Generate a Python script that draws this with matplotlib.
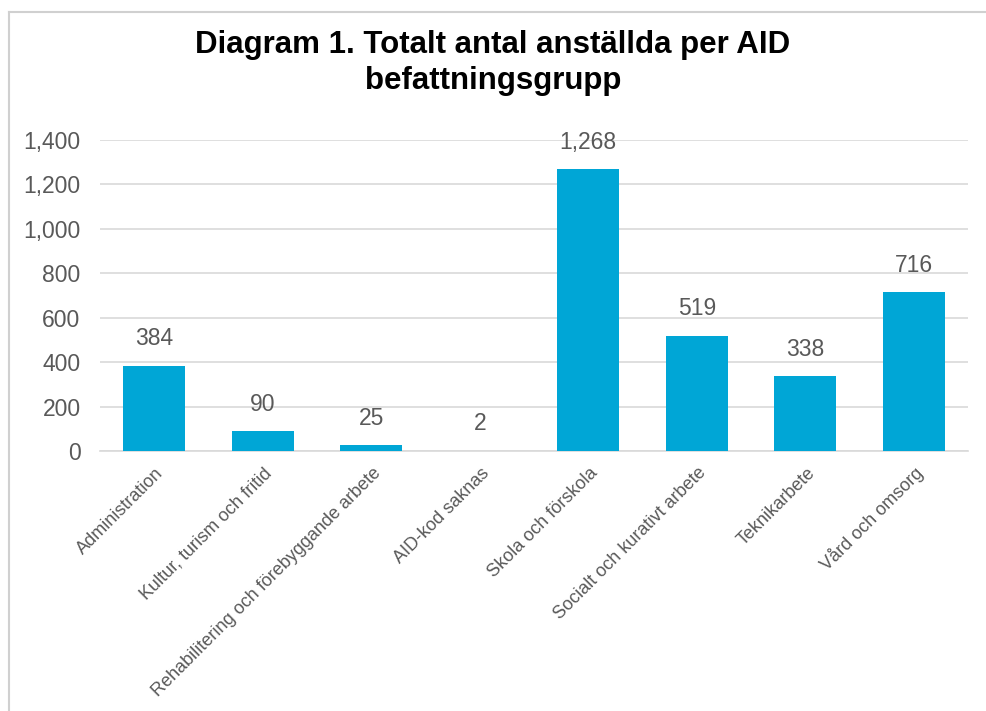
import matplotlib
matplotlib.use("Agg")
import matplotlib.pyplot as plt
from matplotlib.lines import Line2D
from matplotlib.ticker import FuncFormatter
from matplotlib.transforms import ScaledTranslation

plt.rcParams['font.family'] = ['Liberation Sans', 'DejaVu Sans']

categories = ["Administration", "Kultur, turism och fritid",
              "Rehabilitering och förebyggande arbete", "AID-kod saknas",
              "Skola och förskola", "Socialt och kurativt arbete",
              "Teknikarbete", "Vård och omsorg"]
values = [384, 90, 25, 2, 1268, 519, 338, 716]
yticks = [0, 200, 400, 600, 800, 1000, 1200, 1400]

W, H = 986, 711
fig = plt.figure(figsize=(W/100, H/100), dpi=100)
ax = fig.add_axes([100/W, 1-451/H, 868/W, (451-140)/H])

bar_col = '#00A6D6'
txt_col = '#595959'
grid_col = '#D9D9D9'

x = range(len(categories))
ax.bar(x, values, width=0.575, color=bar_col, zorder=3)
for i, v in enumerate(values):
    ax.annotate(f"{v:,}", (i, v), xytext=(0, 11), textcoords='offset points',
                ha='center', va='bottom', fontsize=16.5, color=txt_col)

ax.set_xlim(-0.5, len(categories) - 0.5)
ax.set_ylim(0, 1400)
ax.set_yticks(yticks)
ax.yaxis.set_major_formatter(FuncFormatter(lambda v, p: f"{int(v):,}"))
ax.yaxis.grid(True, color=grid_col, linewidth=1.2, zorder=0)
for s in ['top', 'right', 'left']:
    ax.spines[s].set_visible(False)
ax.spines['bottom'].set_color(grid_col)
ax.spines['bottom'].set_linewidth(1.2)
ax.tick_params(axis='both', length=0)
ax.tick_params(axis='y', labelsize=16.5, labelcolor=txt_col, pad=14)
ax.set_xticks(list(x))
ax.set_xticklabels(categories, rotation=45, ha='right', va='center',
                   rotation_mode='anchor', fontsize=13, color=txt_col)
ax.tick_params(axis='x', pad=14)
shift = ScaledTranslation(7/100, 0, fig.dpi_scale_trans)
for lab in ax.get_xticklabels():
    lab.set_transform(lab.get_transform() + shift)

fig.text(0.5, 1-45/H, "Diagram 1. Totalt antal anställda per AID",
         ha='center', va='center', fontsize=22.5, fontweight='bold')
fig.text(0.5, 1-81/H, "befattningsgrupp",
         ha='center', va='center', fontsize=22.5, fontweight='bold')

# thin frame around the chart area
fig.add_artist(Line2D([9/W, 1], [1-12/H, 1-12/H], color='#D0D0D0', lw=1.5))
fig.add_artist(Line2D([9/W, 9/W], [0, 1-12/H], color='#D0D0D0', lw=1.5))

fig.savefig("out.png", dpi=100)
